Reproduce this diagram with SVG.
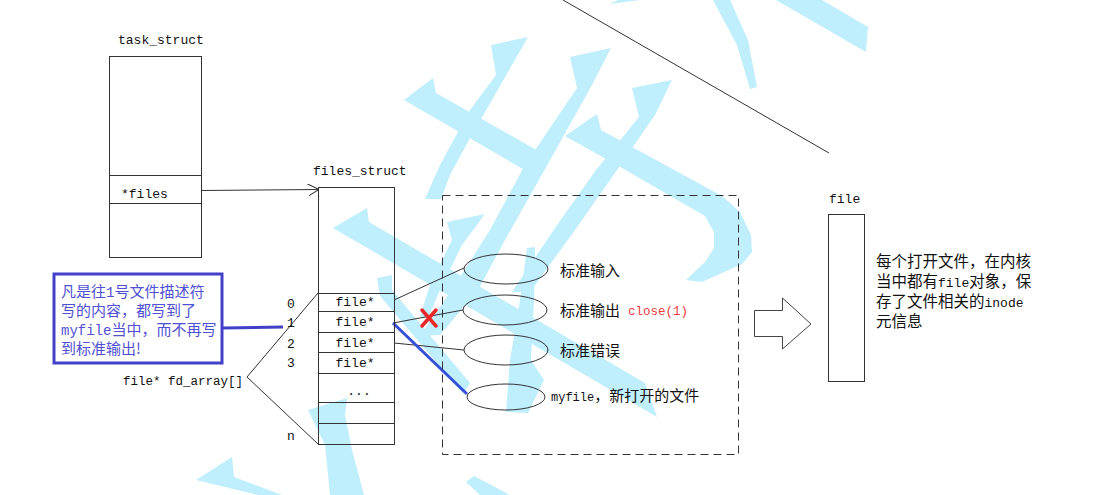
<svg xmlns="http://www.w3.org/2000/svg" width="1104" height="495" viewBox="0 0 1104 495">
<defs>
<style>
.wm{fill:#bfeefd}
.box{fill:#fff;fill-opacity:0;stroke:#333;stroke-width:1}
.ln{fill:none;stroke:#333;stroke-width:1}
.mono{font-family:"Liberation Mono","DejaVu Sans Mono",monospace;font-size:13px;fill:#111}
.cjk{font-family:"Noto Sans CJK SC","Noto Sans",sans-serif;font-size:15px;fill:#111}
.blue{fill:#5050d4}
.red{fill:#f03c3c}
</style>
<marker id="open" viewBox="0 0 12 12" refX="12" refY="6" markerWidth="12" markerHeight="12" markerUnits="userSpaceOnUse" orient="auto">
<path d="M0,0 L12,6 L2,12" fill="none" stroke="#333" stroke-width="1"/>
</marker>
</defs>
<rect width="1104" height="495" fill="#fff"/>

<g id="watermark">
<polygon class="wm" points="491,45 528,37 500,86 470,138 450,175 441,199 425,199 440,165 470,110 496,75"/>
<polygon class="wm" points="404,100 433,78 436,93 540,152 528,172"/>
<polygon class="wm" points="570,57 611,48 592,85 540,178 505,240 478,290 440,335 420,336 455,285 490,230 525,165 577,88"/>
<polygon class="wm" points="632,88 672,80 655,115 610,180 575,230 530,292 512,292 555,228 596,170 639,117"/>
<polygon class="wm" points="565,136 597,114 601,130 722,196 740,212 751,235 752,252 742,264 702,282 686,280 705,262 714,248 714,232 705,216 622,168"/>
<polygon class="wm" points="713,0 730,0 748,40 757,87 750,89 737,45"/>
<polygon class="wm" points="776,0 822,0 868,27 866,52"/>
<polygon class="wm" points="610,4 640,0 618,0"/>
<polygon class="wm" points="333,228 367,208 369,222 645,383 657,417"/>
<polygon class="wm" points="377,278 392,275 392,290 470,383 463,394 380,296"/>
<polygon class="wm" points="447,222 485,214 462,245 440,290 428,318 420,316 430,285 452,240"/>
<polygon class="wm" points="527,248 535,247 534,300 531,360 544,380 528,413 506,412 510,360 520,300"/>
<polygon class="wm" points="308,410 347,398 345,415 352,450 364,495 330,495 325,445"/>
<polygon class="wm" points="196,480 232,457 234,477 282,495 258,495"/>
<polygon class="wm" points="466,482 474,476 510,495 480,495"/>
</g>

<g id="connectors">
<line class="ln" x1="563" y1="0" x2="829" y2="153"/>
<line class="ln" x1="201" y1="190.5" x2="319" y2="189.5" marker-end="url(#open)"/>
<polyline class="ln" points="318,293 247,377 318,444"/>
<line class="ln" x1="394" y1="300" x2="464" y2="268"/>
<line class="ln" x1="393" y1="323" x2="463" y2="310"/>
<line class="ln" x1="394" y1="343" x2="464" y2="350"/>
<line x1="393" y1="323" x2="467" y2="394" stroke="#3550d6" stroke-width="3"/>
<line x1="222" y1="328" x2="283" y2="327" stroke="#4040c8" stroke-width="3"/>
<g id="close-mark" stroke="#e82828" stroke-width="3.5" stroke-linecap="round">
<line x1="422" y1="310" x2="436" y2="326"/>
<line x1="436" y1="310" x2="422" y2="326"/>
</g>
</g>

<g id="task_struct">
<text class="mono" x="118" y="44">task_struct</text>
<rect class="box" x="109.5" y="56.5" width="92" height="201"/>
<line class="ln" x1="109.5" y1="175.5" x2="201.5" y2="175.5"/>
<line class="ln" x1="109.5" y1="203.5" x2="201.5" y2="203.5"/>
<text class="mono" x="121" y="198">*files</text>
</g>

<g id="files_struct">
<text class="mono" x="313" y="175">files_struct</text>
<rect class="box" x="318.5" y="187.5" width="76" height="257"/>
<line class="ln" x1="318.5" y1="293.5" x2="394.5" y2="293.5"/>
<line class="ln" x1="318.5" y1="311.5" x2="394.5" y2="311.5"/>
<line class="ln" x1="318.5" y1="332.5" x2="394.5" y2="332.5"/>
<line class="ln" x1="318.5" y1="352.5" x2="394.5" y2="352.5"/>
<line class="ln" x1="318.5" y1="373.5" x2="394.5" y2="373.5"/>
<line class="ln" x1="318.5" y1="402.5" x2="394.5" y2="402.5"/>
<line class="ln" x1="318.5" y1="423.5" x2="394.5" y2="423.5"/>
<text class="mono" x="355" y="306" text-anchor="middle">file*</text>
<text class="mono" x="355" y="326" text-anchor="middle">file*</text>
<text class="mono" x="355" y="347" text-anchor="middle">file*</text>
<text class="mono" x="355" y="367" text-anchor="middle">file*</text>
<text class="mono" x="359" y="395" text-anchor="middle">...</text>
<text class="mono" x="287" y="308">0</text>
<text class="mono" x="287" y="327">1</text>
<text class="mono" x="287" y="348">2</text>
<text class="mono" x="287" y="367">3</text>
<text class="mono" x="287" y="440">n</text>
<text class="mono" x="123" y="385" style="font-size:12.5px">file* fd_array[]</text>
</g>

<g id="callout">
<rect x="54" y="274" width="168" height="89" fill="none" stroke="#4040c8" stroke-width="3"/>
<text class="cjk blue" x="61" y="297">凡是往<tspan font-family="Liberation Mono, monospace" font-size="14">1</tspan>号文件描述符</text>
<text class="cjk blue" x="61" y="316">写的内容，都写到了</text>
<text class="cjk blue" x="61" y="335"><tspan font-family="Liberation Mono, monospace" font-size="14">myfile</tspan>当中，而不再写</text>
<text class="cjk blue" x="61" y="354">到标准输出!</text>
</g>

<g id="open-files">
<rect x="442.5" y="195.5" width="296" height="259" fill="none" stroke="#333" stroke-width="1" stroke-dasharray="8,5"/>
<g id="stdin">
<ellipse class="box" cx="506" cy="269" rx="42" ry="15"/>
<text class="cjk" x="560" y="276">标准输入</text>
</g>
<g id="stdout">
<ellipse class="box" cx="505" cy="310" rx="42" ry="15"/>
<text class="cjk" x="560" y="316">标准输出</text>
<text class="mono red" x="628" y="315" style="font-size:12.5px">close(1)</text>
</g>
<g id="stderr">
<ellipse class="box" cx="506" cy="350" rx="42" ry="15"/>
<text class="cjk" x="560" y="356">标准错误</text>
</g>
<g id="myfile">
<ellipse class="box" cx="506" cy="397" rx="39" ry="13"/>
<text class="cjk" x="551" y="401"><tspan font-family="Liberation Mono, monospace" font-size="12">myfile</tspan>，新打开的文件</text>
</g>
</g>

<g id="block-arrow">
<polygon points="754.5,310.5 782.5,310.5 782.5,298 811,324 782.5,349 782.5,336.5 754.5,336.5" fill="#fff" stroke="#444" stroke-width="1"/>
</g>

<g id="file">
<text class="mono" x="829" y="203">file</text>
<rect class="box" x="828.5" y="214.5" width="36" height="167"/>
</g>

<g id="file-note">
<text class="cjk" x="876" y="267" style="font-size:15.5px">每个打开文件，在内核</text>
<text class="cjk" x="876" y="287" style="font-size:15.5px">当中都有<tspan font-family="Liberation Mono, monospace" font-size="13">file</tspan>对象，保</text>
<text class="cjk" x="876" y="307" style="font-size:15.5px">存了文件相关的<tspan font-family="Liberation Mono, monospace" font-size="13">inode</tspan></text>
<text class="cjk" x="876" y="327" style="font-size:15.5px">元信息</text>
</g>
</svg>
